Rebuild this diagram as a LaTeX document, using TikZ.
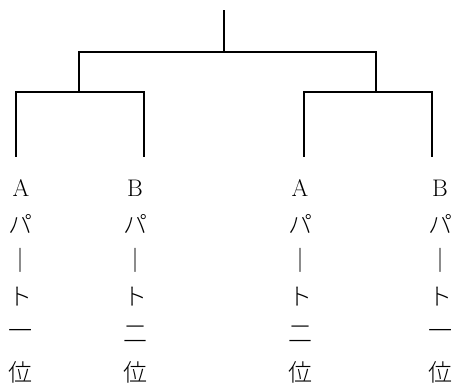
\documentclass[tikz,border=0pt]{standalone}
\usepackage{fontspec}
\newfontfamily\jp[UprightFont={* Light}]{Noto Sans CJK JP}
\begin{document}
\begin{tikzpicture}[x=1pt,y=-1pt,
  wire/.style={line width=1.6pt, line cap=rect},
  ch/.style={inner sep=0pt, font=\fontsize{24}{28}\selectfont}]
\useasboundingbox (0,0) rectangle (452,385);
% bracket joints
\coordinate (top) at (224,11);
\coordinate (root) at (224,52);
\coordinate (jl) at (79,92);
\coordinate (jr) at (376,92);
\coordinate (e1) at (16,156);
\coordinate (e2) at (144,156);
\coordinate (e3) at (304,156);
\coordinate (e4) at (432,156);
\draw[wire] (top) -- (root);
\draw[wire] (jl) |- (root) -| (jr);
\draw[wire] (e1) |- (jl) -| (e2);
\draw[wire] (e3) |- (jr) -| (e4);
% leaf labels
\foreach \x/\a/\n [count=\i] in {21/A/一,135/B/二,300/A/二,440/B/一} {
  \node[ch] (c\i a) at (\x,188) {\a};
  \node[ch] (c\i b) at (\x,224) {\jp パ};
  \node[ch] (c\i c) at (\x,260) {\jp ｜};
  \node[ch] (c\i d) at (\x,297) {\jp ト};
  \node[ch] (c\i e) at (\x,334) {\jp \n};
  \node[ch] (c\i f) at (\x,372) {\jp 位};
}
\end{tikzpicture}
\end{document}
